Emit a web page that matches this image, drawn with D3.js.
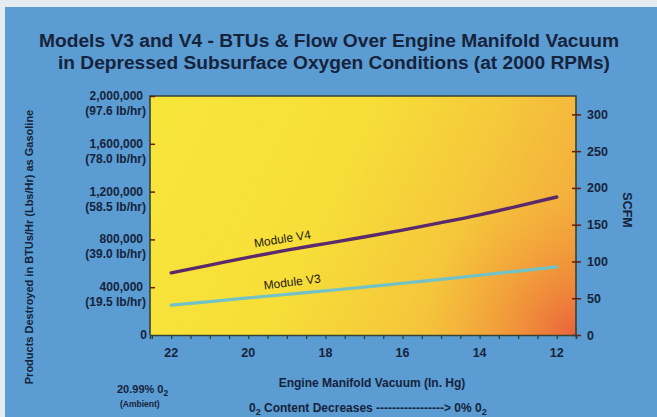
<!DOCTYPE html>
<html><head><meta charset="utf-8">
<script src="https://cdn.jsdelivr.net/npm/d3@7"></script>
<style>body{margin:0;padding:0;background:#fff}svg{display:block}</style>
</head><body>
<script>
// ---- data ----
const vacuum = [22, 21, 20, 19, 18, 17, 16, 15, 14, 13, 12];
const v4Btu = [520000, 585000, 650000, 710000, 765000, 820000, 878000, 940000, 1005000, 1078000, 1155000];
const v3Btu = [250000, 280000, 310000, 340000, 370000, 400000, 433000, 465000, 500000, 535000, 570000];
const leftTicks = [0, 400000, 800000, 1200000, 1600000, 2000000];
const leftTickLabels = ["0", "400,000", "800,000", "1,200,000", "1,600,000", "2,000,000"];
const leftTickSub = ["", "(19.5 lb/hr)", "(39.0 lb/hr)", "(58.5 lb/hr)", "(78.0 lb/hr)", "(97.6 lb/hr)"];
const rightTicks = [0, 50, 100, 150, 200, 250, 300];
const xLabelTicks = [22, 20, 18, 16, 14, 12];
const seriesNames = ["Module V4", "Module V3"];

const W = 657, H = 417;
const L = 150, R = 576, T = 96, B = 335;
const ink = "#16233b";
const font = "'Liberation Sans', Arial, sans-serif";

const svg = d3.select("body").append("svg").attr("width", W).attr("height", H)
  .style("font-family", font);

// background
svg.append("rect").attr("width", W).attr("height", H).attr("fill", "#e4ecf2");
svg.append("rect").attr("x", 5).attr("y", 7).attr("width", W - 5).attr("height", H - 7).attr("fill", "#5b9cd2");

// gradients
const defs = svg.append("defs");
const g1 = defs.append("linearGradient").attr("id", "pg").attr("gradientUnits", "userSpaceOnUse")
  .attr("x1", L).attr("y1", T + 40).attr("x2", R).attr("y2", B);
[[0, "#f8e53a"], [0.4, "#f7de38"], [0.65, "#f5c93b"], [0.85, "#f4b23c"], [1, "#f1993a"]]
  .forEach(([o, c]) => g1.append("stop").attr("offset", o).attr("stop-color", c));
const g2 = defs.append("radialGradient").attr("id", "rg").attr("gradientUnits", "userSpaceOnUse")
  .attr("cx", R).attr("cy", B).attr("r", 150);
[[0, "#e9603a", 0.95], [0.35, "#ee7a3a", 0.6], [1, "#f2a03a", 0]]
  .forEach(([o, c, a]) => g2.append("stop").attr("offset", o).attr("stop-color", c).attr("stop-opacity", a));

const x = d3.scaleLinear().domain([22.55, 11.5]).range([L, R]);
const yL = d3.scaleLinear().domain([0, 2000000]).range([B, T]);
const yR = d3.scaleLinear().domain([0, 325]).range([B, T]);

svg.append("rect").attr("x", L).attr("y", T).attr("width", R - L).attr("height", B - T).attr("fill", "url(#pg)");
svg.append("rect").attr("x", L).attr("y", T).attr("width", R - L).attr("height", B - T).attr("fill", "url(#rg)");

// frame
svg.append("path").attr("d", `M${L},${B}V${T}H${R}V${B}`).attr("fill", "none")
  .attr("stroke", "#34433a").attr("stroke-width", 1.6);

// title
const title = svg.append("g").attr("fill", ink).attr("font-weight", "bold").attr("font-size", 17.5).attr("text-anchor", "middle");
title.append("text").attr("x", 329).attr("y", 47).attr("textLength", 580).attr("lengthAdjust", "spacingAndGlyphs")
  .text("Models V3 and V4 - BTUs & Flow Over Engine Manifold Vacuum");
title.append("text").attr("x", 334).attr("y", 69).attr("textLength", 552).attr("lengthAdjust", "spacingAndGlyphs")
  .text("in Depressed Subsurface Oxygen Conditions (at 2000 RPMs)");

// left axis
const gl = svg.append("g").attr("transform", `translate(${L},0)`)
  .call(d3.axisRight(yL).tickValues(leftTicks).tickSize(5).tickFormat(""));
gl.select(".domain").remove();
gl.selectAll(".tick line").attr("stroke", "#6b1a10").attr("stroke-width", 1.5);
gl.selectAll(".tick").filter(d => d === 0).select("line").remove();
const ll = svg.append("g").attr("fill", ink).attr("font-weight", "bold").attr("font-size", 12).attr("text-anchor", "end");
leftTicks.forEach((v, i) => {
  ll.append("text").attr("x", i === 0 ? 147 : 143).attr("y", yL(v) + 4).text(leftTickLabels[i]);
  if (leftTickSub[i]) ll.append("text").attr("x", 146).attr("y", yL(v) + 19).text(leftTickSub[i]);
});

// right axis
const gr = svg.append("g").attr("transform", `translate(${R},0)`)
  .call(d3.axisRight(yR).tickValues(rightTicks).tickSize(5).tickPadding(6).tickFormat(d3.format("d")));
gr.select(".domain").remove();
gr.selectAll(".tick line").attr("x1", -4).attr("stroke", "#6b1a10").attr("stroke-width", 1.5);
gr.selectAll(".tick text").attr("fill", ink).attr("font-weight", "bold").attr("font-size", 12.5).attr("font-family", font);

// x axis
const xTicks = d3.range(22.5, 11.49, -0.5);
const gx = svg.append("g").attr("transform", `translate(0,${B})`)
  .call(d3.axisBottom(x).tickValues(xTicks).tickSize(4).tickFormat(""));
gx.select(".domain").attr("stroke", "#34433a").attr("stroke-width", 1.6);
gx.selectAll(".tick line").attr("stroke", "#2d3a3a").attr("stroke-width", 1.2);
svg.append("g").attr("fill", ink).attr("font-weight", "bold").attr("font-size", 12.5).attr("text-anchor", "middle")
  .selectAll("text").data(xLabelTicks).join("text")
  .attr("x", d => x(d)).attr("y", 357).text(d => d);

// lines
const line = d3.line().x((d, i) => x(vacuum[i])).y(d => yL(d)).curve(d3.curveMonotoneX);
svg.append("path").datum(v3Btu).attr("d", line).attr("fill", "none")
  .attr("stroke", "#72c2c6").attr("stroke-width", 3.2).attr("stroke-linecap", "round");
svg.append("path").datum(v4Btu).attr("d", line).attr("fill", "none")
  .attr("stroke", "#5a2a6c").attr("stroke-width", 3.4).attr("stroke-linecap", "round");

// series labels
const sl = svg.append("g").attr("fill", "#1c1a14").attr("font-size", 12).attr("text-anchor", "middle");
sl.append("text").attr("transform", `translate(${x(19.1)},${yL(v4Btu[3] + 10000) - 6}) rotate(-9)`).text(seriesNames[0]);
sl.append("text").attr("transform", `translate(${x(18.85)},${yL(v3Btu[3] + 12000) - 7}) rotate(-7)`).text(seriesNames[1]);

// axis titles
svg.append("text").attr("transform", "translate(33,247) rotate(-90)").attr("text-anchor", "middle")
  .attr("fill", ink).attr("font-weight", "bold").attr("font-size", 11)
  .text("Products Destroyed in BTUs/Hr (Lbs/Hr) as Gasoline");
svg.append("text").attr("transform", "translate(623,210) rotate(90)").attr("text-anchor", "middle")
  .attr("fill", ink).attr("font-weight", "bold").attr("font-size", 12.5).text("SCFM");
svg.append("text").attr("x", 372).attr("y", 387).attr("text-anchor", "middle")
  .attr("fill", ink).attr("font-weight", "bold").attr("font-size", 12).text("Engine Manifold Vacuum (In. Hg)");

const bt = svg.append("text").attr("x", 249).attr("y", 412)
  .attr("fill", ink).attr("font-weight", "bold").attr("font-size", 12);
bt.append("tspan").text("0");
bt.append("tspan").attr("font-size", 9).attr("dy", 3).text("2");
bt.append("tspan").attr("dy", -3).text(" Content Decreases -----------------> 0% 0");
bt.append("tspan").attr("font-size", 9).attr("dy", 3).text("2");

const amb = svg.append("text").attr("x", 117).attr("y", 393)
  .attr("fill", ink).attr("font-weight", "bold").attr("font-size", 11);
amb.append("tspan").text("20.99% 0");
amb.append("tspan").attr("font-size", 8.5).attr("dy", 3).text("2");
svg.append("text").attr("x", 120).attr("y", 407).attr("fill", ink).attr("font-weight", "bold")
  .attr("font-size", 8.5).text("(Ambient)");
</script>
</body></html>
